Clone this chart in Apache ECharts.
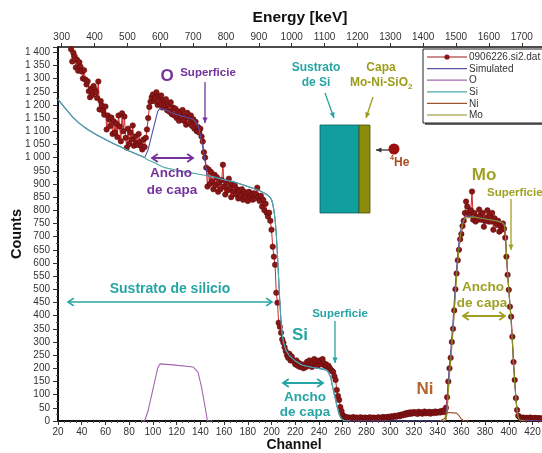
<!DOCTYPE html>
<html><head><meta charset="utf-8">
<script src="https://cdn.jsdelivr.net/npm/echarts@6/dist/echarts.min.js"></script>
<style>html,body{margin:0;padding:0;background:#fff}#c{width:542px;height:453px}</style>
</head><body><div id="c"></div>
<script>
// ---- DATA ----
const channelStart = 31;
const counts = [
1411,1365,1398,1385,1342,1372,1330,1362,1345,1327,
1300,1332,1297,1278,1290,1252,1229,1262,1238,1272,
1259,1248,1226,1289,1183,1215,1198,1178,1163,1194,
1107,1160,1145,1120,1152,1090,1138,1095,1130,1078,
1160,1118,1062,1168,1100,1156,1075,1038,1110,1052,
1095,1069,1122,1045,1080,1057,1048,1090,1060,1044,
1031,1069,1040,1075,1107,1150,1192,1212,1229,1240,
1215,1226,1248,1200,1232,1210,1236,1190,1216,1195,
1222,1180,1202,1174,1210,1165,1190,1160,1186,1150,
1176,1140,1170,1155,1181,1140,1160,1125,1170,1150,
1130,1160,1120,1146,1110,1136,1100,1116,1095,1110,
1080,1061,1020,1000,962,890,955,900,945,910,
880,935,895,925,870,905,880,915,973,890,
860,905,875,920,885,850,900,870,895,860,
880,845,875,855,880,840,870,850,865,835,
870,850,860,840,865,845,860,886,850,835,
855,814,840,800,825,790,776,791,760,726,
662,624,593,487,449,373,358,335,310,297,
280,265,250,240,255,230,245,232,225,215,
230,210,220,205,215,205,200,215,205,225,
210,230,215,205,220,235,215,225,210,230,
225,215,235,220,210,215,205,210,201,195,
190,186,170,156,118,95,80,53,38,23,
18,15,12,14,10,13,9,12,15,11,
10,13,8,11,14,9,12,10,13,11,
9,12,14,10,11,13,9,12,10,14,
12,10,13,15,11,14,12,16,13,15,
18,14,17,20,16,19,22,18,24,21,
26,23,29,25,31,27,33,28,30,34,
29,32,27,35,30,33,28,31,36,29,
33,30,35,28,32,34,30,36,31,33,
35,32,38,34,40,34,50,90,150,200,
240,300,350,420,500,560,610,650,690,710,
740,760,790,833,814,791,783,800,871,764,
790,757,775,764,803,780,764,790,738,760,
772,800,757,780,757,790,726,770,753,745,
760,719,740,726,750,730,696,624,555,498,
434,396,320,224,156,87,42,20,15,12,
10,13,9,11,12,8,10,13,9,11,
10,12,9,10,11,8,10,9
];
const simulated = [
[20,1221],[26,1188],[32,1156],[38,1130],[45,1107],[52,1088],[60,1069],[67,1053],[74,1038],[80,1025],[87,1012],[93,1000],
[96,1030],[99,1085],[102,1139],[104,1175],[106,1187],[110,1183],[117,1168],[125,1157],[134,1146],[138,1124],[141,1064],[144,986],[146,931],
[150,928],[160,916],[167,909],[175,898],[185,883],[192,870],[196,860],[199,848],[200,840],[201,825],[202,800],[203,765],[204,710],[205,630],
[206,540],[207,450],[208,380],[209,330],[210,300],[212,270],[215,248],[220,228],[226,212],[235,203],[242,198],[246,194],[248,185],[250,165],
[251,140],[253,100],[255,60],[257,25],[259,8],[261,2],[263,0],[346,0],[347,8],[348,60],[349,150],[350,210],[351,260],[352,320],[353,380],
[354,450],[355,520],[356,580],[357,635],[358,680],[359,712],[360,735],[361,752],[362,765],[363,772],[364,778],[370,776],[375,772],[380,768],
[385,764],[390,760],[394,756],[396,748],[397,722],[398,642],[399,565],[400,500],[401,440],[402,380],[403,300],[404,220],[405,150],[406,85],
[407,40],[408,15],[409,4],[410,0],[428,0]
];
const oxygen = [[90,0],[93,0],[96,40],[99,100],[102,160],[104,200],[106,217],[117,213],[134,205],[138,186],[141,129],[144,53],[146,0],[150,0]];
const silicon = [
[20,1221],[26,1188],[32,1156],[38,1130],[45,1107],[52,1088],[60,1069],[67,1053],[74,1038],[80,1025],[87,1012],[93,1000],
[95,993],[100,983],[105,972],[110,962],[120,952],[130,944],[140,936],[146,931],
[150,928],[160,916],[167,909],[175,898],[185,883],[192,870],[196,860],[199,848],[200,840],[201,825],[202,800],[203,765],[204,710],[205,630],
[206,540],[207,450],[208,380],[209,330],[210,300],[212,270],[215,248],[220,228],[226,212],[235,203],[242,198],[246,194],[248,185],[250,165],
[251,140],[253,100],[255,60],[257,25],[259,8],[261,2],[263,0],[266,0]
];
const nickel = [[342,0],[346,10],[348,30],[350,32],[353,31],[356,30],[358,20],[360,8],[362,0],[366,0]];
const molybdenum = [
[344,0],[347,5],[348,30],[349,110],[350,175],[351,225],[352,285],[353,345],[354,415],[355,485],[356,548],[357,605],[358,655],[359,695],
[360,722],[361,744],[362,760],[363,770],[364,776],[370,775],[375,771],[380,767],[385,763],[390,759],[394,755],[396,746],[397,720],[398,640],
[399,565],[400,500],[401,440],[402,380],[403,300],[404,220],[405,150],[406,85],[407,40],[408,15],[409,4],[410,0],[414,0]
];
const channelTicks = [20,40,60,80,100,120,140,160,180,200,220,240,260,280,300,320,340,360,380,400,420];
const energyTicks = [300,400,500,600,700,800,900,1000,1100,1200,1300,1400,1500,1600,1700];
const seriesNames = ['0906226.si2.dat','Simulated','O','Si','Ni','Mo'];
const seriesColors = ['#d42828','#5552a8','#a466b0','#4aa9a9','#a0522d','#8c8c1c'];

// ---- CHART ----
const FONT = '"Liberation Sans", Arial, sans-serif';
const dataPairs = counts.map((v,i)=>[channelStart+i, v]);
const chart = echarts.init(document.getElementById('c'), null, {renderer:'canvas'});

const PURPLE='#74329c', TEAL='#27a4a4', OLIVE='#a0a024', BROWN='#b5652e';
function txt(x,y,text,color,size,align,weight){
  return {type:'text', x:x, y:y, z:100, silent:true,
    style:{text:text, fill:color, font:(weight||'bold')+' '+size+'px '+FONT, align:align||'center', verticalAlign:'middle'}};
}
function head(xa,ya,xb,yb,color,w,filled){
  const a=Math.atan2(yb-ya,xb-xa), L=filled?6:7, A=filled?0.45:0.6;
  const pts=[[xb-L*Math.cos(a-A),yb-L*Math.sin(a-A)],[xb,yb],[xb-L*Math.cos(a+A),yb-L*Math.sin(a+A)]];
  if(filled) return {type:'polygon', z:100, silent:true, shape:{points:pts}, style:{fill:color}};
  return {type:'polyline', z:100, silent:true, shape:{points:pts}, style:{stroke:color, lineWidth:w, fill:null}};
}
function arrow(x1,y1,x2,y2,color,both,w){
  w=w||1.5;
  const els=[{type:'line', z:100, silent:true, shape:{x1:x1,y1:y1,x2:x2,y2:y2}, style:{stroke:color,lineWidth:w}}];
  els.push(head(x1,y1,x2,y2,color,w,!both));
  if(both) els.push(head(x2,y2,x1,y1,color,w,false));
  return els;
}
// legend box (drawn with graphic for exact look)
const legendEls = [
  {type:'rect', z:99, silent:true, shape:{x:425,y:51,width:130,height:74}, style:{fill:'#666'}},
  {type:'rect', z:100, silent:true, shape:{x:423,y:49,width:130,height:74}, style:{fill:'#fff', stroke:'#222', lineWidth:1}}
];
seriesNames.forEach((n,i)=>{
  const y = 57 + i*11.6;
  legendEls.push({type:'line', z:101, silent:true, shape:{x1:427,y1:y,x2:467,y2:y}, style:{stroke: i===0 ? '#9c1c1c' : seriesColors[i], lineWidth:1.2}});
  if(i===0) legendEls.push({type:'circle', z:102, silent:true, shape:{cx:447,cy:y,r:2.6}, style:{fill:'#8a1616'}});
  legendEls.push(txt(469,y+0.5,n,'#333',10,'left','normal'));
});

const graphics = [].concat(
  legendEls,
  [txt(167,76,'O',PURPLE,17), txt(208,73,'Superficie',PURPLE,11.5)],
  arrow(205,82,205,123,PURPLE,false,1.3),
  arrow(152,158,193,158,PURPLE,true,1.8),
  [txt(171,173,'Ancho',PURPLE,13.5), txt(172,190,'de capa',PURPLE,13.5)],
  [txt(170,289,'Sustrato de silicio',TEAL,14)],
  arrow(68,302,272,302,TEAL,true,1.6),
  [txt(316,68,'Sustrato',TEAL,12), txt(316,83,'de Si',TEAL,12)],
  arrow(325,93,334,118,TEAL,false,1.3),
  [txt(381,68,'Capa','#9c9c1c',12), txt(350,83,'Mo-Ni-SiO','#9c9c1c',12,'left'), txt(408,87,'2','#9c9c1c',8,'left')],
  arrow(373,97,366,118,'#9c9c1c',false,1.3),
  [{type:'rect', z:100, silent:true, shape:{x:320,y:125,width:39,height:88}, style:{fill:'#109e9e', stroke:'#0d5e5e', lineWidth:0.8}},
   {type:'rect', z:100, silent:true, shape:{x:359,y:125,width:11,height:88}, style:{fill:'#8c8c0c', stroke:'#4e4e06', lineWidth:0.8}}],
  arrow(389,150,376,150,'#333',false,1.3),
  [{type:'circle', z:100, silent:true, shape:{cx:394,cy:149,r:5.5}, style:{fill:'#9c1010'}},
   txt(390,158,'4','#a84a22',7,'left'), txt(394,163,'He','#a84a22',12,'left')],
  [txt(484,175,'Mo',OLIVE,17), txt(487,193,'Superficie',OLIVE,11.5,'left')],
  arrow(511,199,511,250,OLIVE,false,1.3),
  [txt(483,287,'Ancho',OLIVE,13.5), txt(482,303,'de capa',OLIVE,13.5)],
  arrow(463,316,505,316,OLIVE,true,1.8),
  [txt(300,335,'Si',TEAL,17), txt(340,314,'Superficie',TEAL,11.5)],
  arrow(335,321,335,363,TEAL,false,1.3),
  arrow(283,383,323,383,TEAL,true,1.8),
  [txt(305,397,'Ancho',TEAL,13.5), txt(305,412,'de capa',TEAL,13.5)],
  [txt(425,389,'Ni',BROWN,17)]
);

function fmtCount(v){
  if (v % 50 !== 0) return '';
  if (v >= 1000) return Math.floor(v/1000)+' '+String(v%1000).padStart(3,'0');
  return String(v);
}
const lineSeries = (i, data) => ({
  name:seriesNames[i], type:'line', data:data, symbol:'none', showSymbol:false, animation:false, silent:true,
  lineStyle:{color:seriesColors[i], width:1.1}, itemStyle:{color:seriesColors[i]}, z:3
});

chart.setOption({
  animation:false,
  backgroundColor:'#fff',
  textStyle:{fontFamily:FONT},
  grid:{left:58, right:0, top:47, bottom:32, outerBoundsMode:'none', containLabel:false},
  xAxis:[
    {type:'value', position:'bottom', min:20, max:428, interval:20,
     name:'Channel', nameLocation:'middle', nameGap:17, nameMoveOverlap:false,
     nameTextStyle:{fontSize:14, fontWeight:'bold', color:'#111', fontFamily:FONT, padding:[0,12,0,0]},
     axisLine:{lineStyle:{color:'#111', width:2}},
     axisTick:{length:4, lineStyle:{color:'#333'}},
     minorTick:{show:true, splitNumber:4, length:2, lineStyle:{color:'#555'}},
     axisLabel:{fontSize:10, color:'#333', margin:6, formatter:v=> (v%20===0 && v<=420) ? String(v) : ''},
     splitLine:{show:false}},
    {type:'value', position:'top', min:288.7, max:1761.6,
     name:'Energy [keV]', nameLocation:'middle', nameGap:21, nameMoveOverlap:false,
     nameTextStyle:{fontSize:15.5, fontWeight:'bold', color:'#111', fontFamily:FONT},
     axisLine:{onZero:false, lineStyle:{color:'#111', width:1.5}},
     axisTick:{customValues:energyTicks, length:4, lineStyle:{color:'#333'}},
     axisLabel:{customValues:energyTicks, fontSize:10, color:'#333', margin:5, formatter:v=>String(v)},
     splitLine:{show:false}}
  ],
  yAxis:{type:'value', min:0, max:1420, interval:50,
    name:'Counts', nameLocation:'middle', nameGap:34, nameMoveOverlap:false,
    nameTextStyle:{fontSize:14.5, fontWeight:'bold', color:'#111', fontFamily:FONT},
    axisLine:{show:true, lineStyle:{color:'#111', width:2}},
    axisTick:{show:true, length:5, lineStyle:{color:'#333'}},
    minorTick:{show:true, splitNumber:2, length:2, lineStyle:{color:'#555'}},
    axisLabel:{fontSize:10, color:'#333', formatter:fmtCount, showMaxLabel:false},
    splitLine:{show:false}},
  series:[
    {name:seriesNames[0], type:'line', data:dataPairs, symbol:'circle', symbolSize:5.5, showSymbol:true,
     animation:false, silent:true, z:2,
     lineStyle:{color:seriesColors[0], width:1}, itemStyle:{color:'#8a1616', borderColor:'#5a0808', borderWidth:0.5}},
    lineSeries(1, simulated),
    lineSeries(2, oxygen),
    lineSeries(3, silicon),
    lineSeries(4, nickel),
    lineSeries(5, molybdenum)
  ],
  graphic:graphics
});
</script>
</body></html>
